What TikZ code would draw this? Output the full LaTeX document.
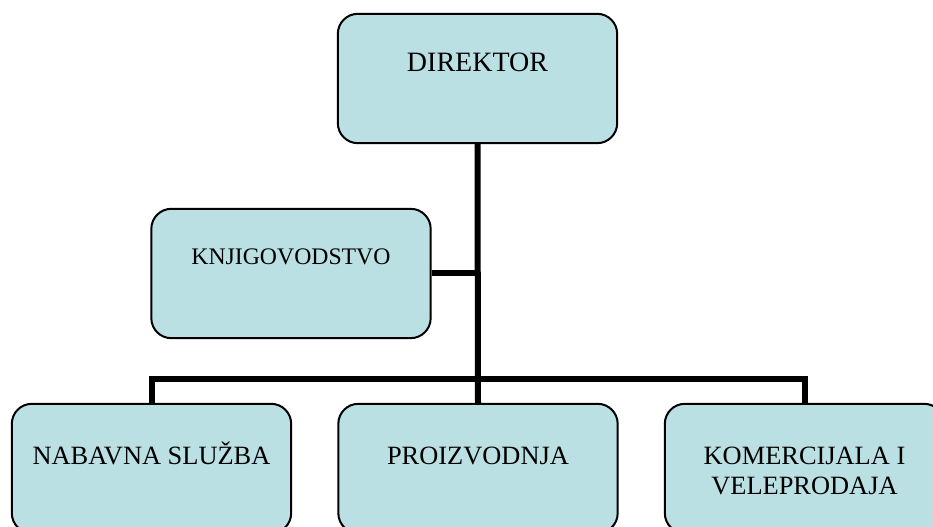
\documentclass[tikz,border=0pt]{standalone}
\usepackage{fontspec}
\setmainfont{Liberation Serif}
\usepackage{tikz}
\usetikzlibrary{positioning}
\definecolor{boxfill}{RGB}{187,224,227}

\begin{document}
\begin{tikzpicture}[x=0.75pt,y=-0.75pt,
	box/.style={draw=black, line width=1.5pt, fill=boxfill, rounded corners=15pt, minimum width=209.5pt, minimum height=97pt, inner sep=0pt},
	boxtext/.style={anchor=base, font=\fontsize{19.8}{22.5}\selectfont, align=center, inner sep=0pt},
	conn/.style={line width=4.5pt}]

	\path[use as bounding box, clip] (0,0) rectangle (933,527);

	\node[box] (dir) at (477.5,78.5) {};
	\node[box] (knj) at (291,273.5) {};
	\node[box] (nab) at (151.5,468.5) {};
	\node[box] (pro) at (478,468.5) {};
	\node[box] (kom) at (804.5,468.5) {};
	
	\coordinate (bus) at (478,379);
	
	\draw[conn] (dir.south) -- (pro.north);
	\draw[conn] (knj.east) -- (knj.east -| dir.south);
	\draw[conn] (nab.north) |- (bus) -| (kom.north);
	
	\node[boxtext, font=\fontsize{21}{25}\selectfont] (dirtxt) at ([yshift=-44pt]dir.north) {DIREKTOR};
	\node[boxtext, font=\fontsize{17.8}{21}\selectfont] (knjtxt) at ([yshift=-42.75pt]knj.north) {KNJIGOVODSTVO};
	\node[boxtext] (nabtxt) at ([yshift=-46pt]nab.north) {NABAVNA SLUŽBA};
	\node[boxtext] (protxt) at ([yshift=-46.5pt]pro.north) {PROIZVODNJA};
	\node[boxtext] (komtxt) at ([yshift=-69pt]kom.north) {KOMERCIJALA I\\VELEPRODAJA};
\end{tikzpicture}
\end{document}
